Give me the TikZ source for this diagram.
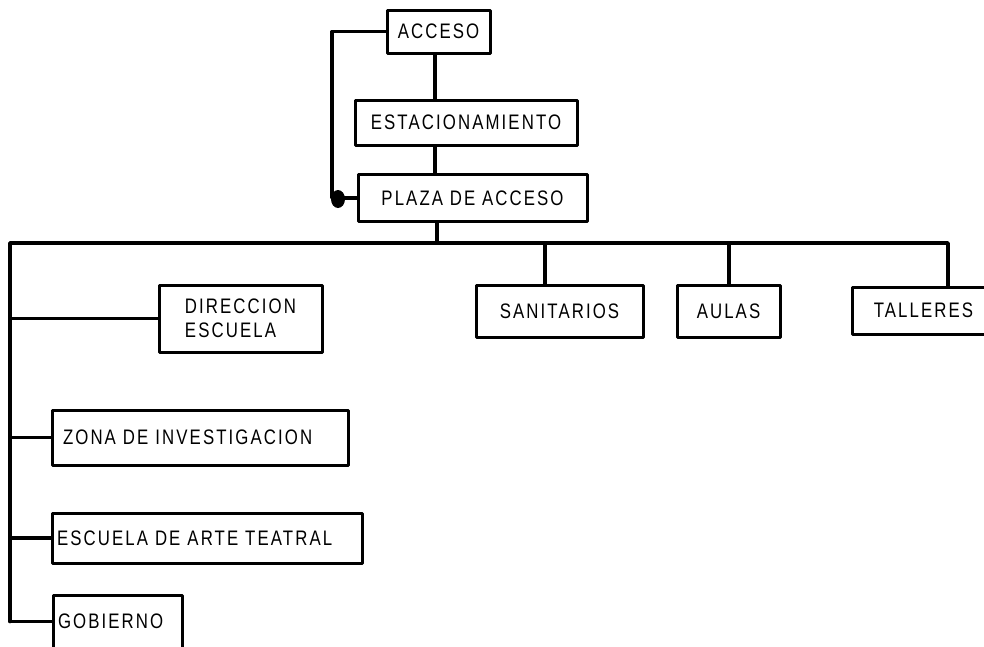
\documentclass[tikz,border=0pt]{standalone}
\usepackage{fontspec}
\setmainfont{Liberation Sans}[FakeStretch=0.8,LetterSpace=10]
\begin{document}
\begin{tikzpicture}[x=1pt,y=-1pt,
  box/.style={draw,line width=3pt,rectangle,inner sep=0pt,font=\fontsize{21}{24}\selectfont,line join=round},
  lbox/.style={box,inner xsep=5pt,align=left},
  conn/.style={line width=3.6pt,line join=round,line cap=round}]
\useasboundingbox (0,0) rectangle (984,646);
% boxes
\node[box,minimum width=103,minimum height=43] (acceso) at (438.5,31.5) {ACCESO};
\node[box,minimum width=222,minimum height=45] (estac) at (466,122.5) {ESTACIONAMIENTO};
\node[box,minimum width=229,minimum height=47] (plaza) at (472.5,198) {PLAZA DE ACCESO};
\node[box,minimum width=163,minimum height=67,align=left] (direccion) at (240.5,318.5) {DIRECCION\\ESCUELA};
\node[box,minimum width=167,minimum height=52] (sanit) at (559.5,311) {SANITARIOS};
\node[box,minimum width=103,minimum height=52] (aulas) at (728.5,311) {AULAS};
\node[box,minimum width=143,minimum height=47] (talleres) at (923.5,310.5) {TALLERES};
\node[lbox,inner xsep=11pt,text width=274,minimum height=55] (zona) at (200,437.5) {ZONA DE INVESTIGACION};
\node[lbox,text width=300,minimum height=50] (escuela) at (207,538) {ESCUELA DE ARTE TEATRAL};
\node[lbox,text width=119,minimum height=53] (gobierno) at (117.5,621.5) {GOBIERNO};
% coordinates
\coordinate (loopc) at (332,31.5);
\coordinate (busL) at (10,243);
\coordinate (busR) at (948,243);
\coordinate (busP) at (437,243);
\coordinate (leftEnd) at (10,621.5);
% top chain
\draw[conn] (acceso.south -| 435,0) -- (estac.north -| 435,0);
\draw[conn] (estac.south -| 435,0) -- (plaza.north -| 435,0);
\draw[conn] (acceso.west) -- (loopc) |- (plaza.west);
\fill (338,199) ellipse [x radius=7,y radius=9];
% bus
\draw[conn] (plaza.south -| busP) -- (busP);
\draw[conn] (leftEnd) -- (busL) -- (busR) -- (talleres.north -| busR);
\draw[conn] (545,243) -- (sanit.north -| 545,0);
\draw[conn] (729,243) -- (aulas.north -| 729,0);
% left branches
\draw[conn] (direccion.west -| busL) -- (direccion.west);
\draw[conn] (zona.west -| busL) -- (zona.west);
\draw[conn] (escuela.west -| busL) -- (escuela.west);
\draw[conn] (leftEnd) -- (gobierno.west);
\end{tikzpicture}
\end{document}
